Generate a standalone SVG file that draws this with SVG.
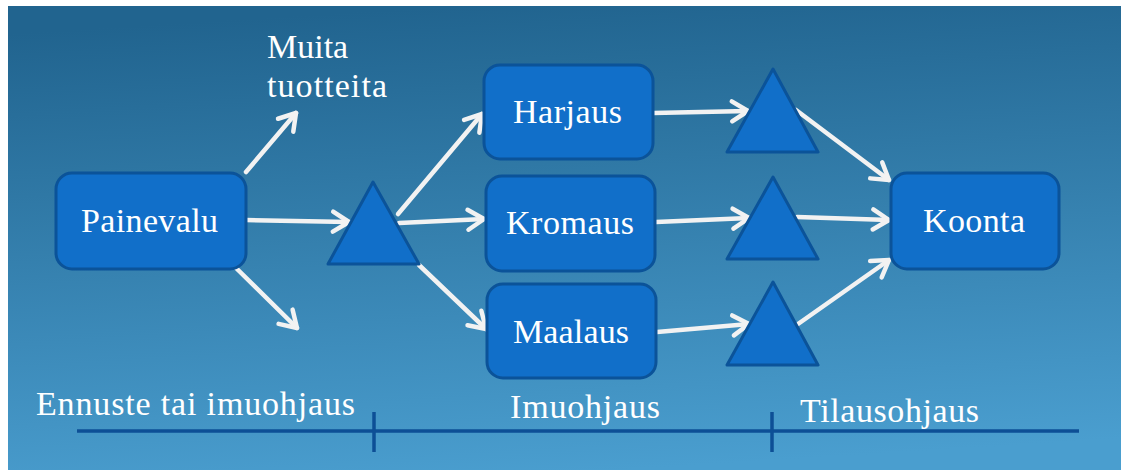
<svg xmlns="http://www.w3.org/2000/svg" width="1121" height="470" viewBox="0 0 1121 470">
  <defs>
    <linearGradient id="bg" x1="0.4" y1="0" x2="0.55" y2="1">
      <stop offset="0" stop-color="#21648f"/>
      <stop offset="1" stop-color="#4a9ecf"/>
    </linearGradient>
    <marker id="head" markerUnits="userSpaceOnUse" markerWidth="40" markerHeight="40" refX="0" refY="0" viewBox="-20 -20 40 40" orient="auto" overflow="visible">
      <path d="M-16,-10 L0,0 L-16,10" fill="none" stroke="#f2f2f2" stroke-width="4.5" stroke-linecap="round" stroke-linejoin="round"/>
    </marker>
    <style>
      .box { fill: #116fc9; stroke: #0b5399; stroke-width: 3; }
      .tri { fill: #116fc9; stroke: #0b5399; stroke-width: 3; stroke-linejoin: round; }
      .lbl { font-family: "Liberation Serif", "Times New Roman", serif; font-size: 34px; fill: #ffffff; }
      .mid { text-anchor: middle; }
      .arrow { stroke: #f2f2f2; stroke-width: 4.5; stroke-linecap: round; fill: none; marker-end: url(#head); }
      .axis { stroke: #0d4f96; stroke-width: 3.5; fill: none; }
    </style>
  </defs>

  <!-- page and background panel -->
  <rect x="0" y="0" width="1121" height="470" fill="#ffffff"/>
  <rect x="8" y="6" width="1113" height="464" fill="url(#bg)"/>

  <!-- connectors -->
  <g id="connectors">
    <line class="arrow" x1="246" y1="172" x2="296" y2="113"/>
    <line class="arrow" x1="246" y1="220" x2="349" y2="222"/>
    <line class="arrow" x1="233" y1="265" x2="297" y2="328"/>
    <line class="arrow" x1="398" y1="214" x2="482" y2="114"/>
    <line class="arrow" x1="399" y1="223" x2="484" y2="219"/>
    <line class="arrow" x1="419" y1="265" x2="486" y2="329"/>
    <line class="arrow" x1="653" y1="113" x2="748" y2="111"/>
    <line class="arrow" x1="656" y1="222" x2="749" y2="218"/>
    <line class="arrow" x1="657" y1="332" x2="749" y2="324"/>
    <line class="arrow" x1="796" y1="110" x2="889" y2="180"/>
    <line class="arrow" x1="797" y1="217" x2="889" y2="220"/>
    <line class="arrow" x1="798" y1="324" x2="889" y2="260"/>
  </g>

  <!-- nodes -->
  <g id="painevalu">
    <rect class="box" x="56" y="173" width="190" height="96" rx="16"/>
    <text class="lbl" x="81" y="232" textLength="137">Painevalu</text>
  </g>
  <g id="muita-tuotteita">
    <text class="lbl" x="267" y="58">Muita</text>
    <text class="lbl" x="267" y="97" textLength="120">tuotteita</text>
  </g>
  <g id="varasto-1">
    <polygon class="tri" points="373,182 419,264 328,264"/>
  </g>
  <g id="harjaus">
    <rect class="box" x="484" y="65" width="169" height="94" rx="16"/>
    <text class="lbl" x="513" y="123" textLength="109">Harjaus</text>
  </g>
  <g id="kromaus">
    <rect class="box" x="486" y="176" width="169" height="95" rx="16"/>
    <text class="lbl" x="506" y="234" textLength="128">Kromaus</text>
  </g>
  <g id="maalaus">
    <rect class="box" x="487" y="284" width="169" height="94" rx="16"/>
    <text class="lbl" x="513" y="343" textLength="116">Maalaus</text>
  </g>
  <g id="varasto-2">
    <polygon class="tri" points="773,69 818,152 727,152"/>
  </g>
  <g id="varasto-3">
    <polygon class="tri" points="773,177 818,259 727,259"/>
  </g>
  <g id="varasto-4">
    <polygon class="tri" points="773,282 818,365 727,365"/>
  </g>
  <g id="koonta">
    <rect class="box" x="891" y="173" width="168" height="96" rx="16"/>
    <text class="lbl" x="923" y="232" textLength="102">Koonta</text>
  </g>

  <!-- control-mode axis -->
  <g id="axis">
    <line class="axis" x1="77" y1="431" x2="1079" y2="431"/>
    <line class="axis" x1="374" y1="412" x2="374" y2="452"/>
    <line class="axis" x1="772" y1="412" x2="772" y2="452"/>
    <text class="lbl" x="36" y="415" textLength="319">Ennuste tai imuohjaus</text>
    <text class="lbl" x="510" y="418" textLength="150">Imuohjaus</text>
    <text class="lbl" x="800" y="422" textLength="179">Tilausohjaus</text>
  </g>
</svg>
